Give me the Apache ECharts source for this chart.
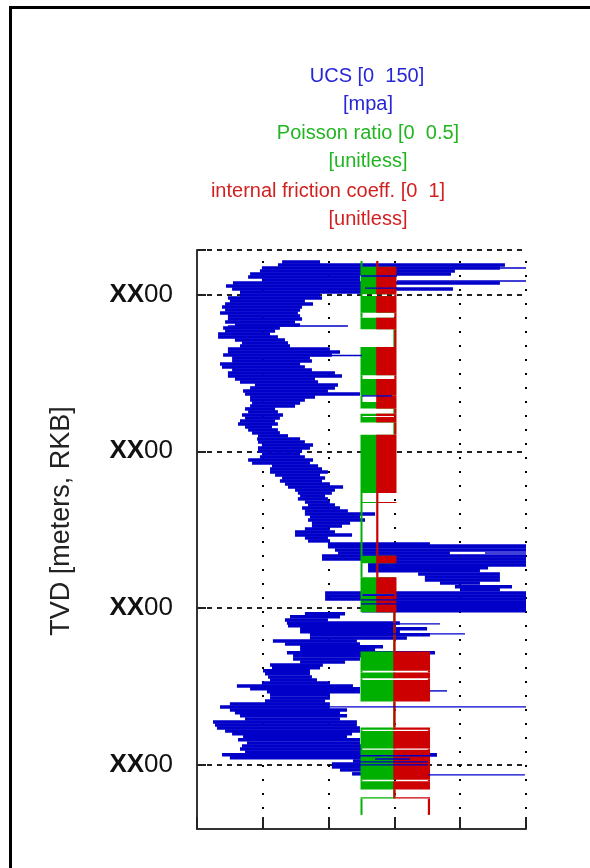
<!DOCTYPE html>
<html>
<head>
<meta charset="utf-8">
<script src="https://cdn.jsdelivr.net/npm/echarts@6/dist/echarts.min.js"></script>
<style>
  html, body { margin: 0; padding: 0; background: #ffffff; }
  #chart { width: 590px; height: 868px; }
</style>
</head>
<body>
<div id="chart"></div>
<script>
// ---- depth axis (TVD, m) ----
const depthTop = 71.6;
const depthBottom = 441.0;
const depthTicks = [100, 200, 300, 400];
const depthTickLabels = ['XX00', 'XX00', 'XX00', 'XX00'];

// ---- UCS axis (MPa) ----
const ucsMinAxis = 0, ucsMaxAxis = 150, ucsStep = 30;

// ---- UCS log: per depth row, the span the curve covers ----
const ucsDepth = [79.3, 81.2, 83.1, 85.0, 86.9, 88.8, 90.8, 92.7, 94.6, 96.5, 98.4, 100.3, 102.2, 104.1, 106.1, 108.0, 109.9, 111.8, 113.7, 115.6, 117.5, 119.5, 121.4, 123.3, 125.2, 127.1, 129.0, 130.9, 132.8, 134.8, 136.7, 138.6, 140.5, 142.4, 144.3, 146.2, 148.2, 150.1, 152.0, 153.9, 155.8, 157.7, 159.6, 161.5, 163.5, 165.4, 167.3, 169.2, 171.1, 173.0, 174.9, 176.9, 178.8, 180.7, 182.6, 184.5, 186.4, 188.3, 190.2, 192.2, 194.1, 196.0, 197.9, 199.8, 201.7, 203.6, 205.6, 207.5, 209.4, 211.3, 213.2, 215.1, 217.0, 219.0, 220.9, 222.8, 224.7, 226.6, 228.5, 230.4, 232.4, 234.3, 236.2, 238.1, 240.0, 241.9, 243.8, 245.8, 247.7, 249.6, 251.5, 253.4, 255.3, 257.2, 259.1, 261.0, 263.0, 264.9, 266.8, 268.7, 270.6, 272.5, 274.4, 276.3, 278.3, 280.2, 282.1, 284.0, 286.5, 288.4, 290.4, 292.3, 294.2, 296.1, 298.0, 299.9, 301.8, 303.7, 305.6, 307.6, 309.5, 311.4, 313.3, 315.2, 317.1, 319.1, 321.0, 322.9, 324.8, 326.7, 328.6, 330.5, 332.5, 334.4, 336.3, 338.2, 340.1, 342.0, 344.0, 345.9, 347.8, 349.7, 351.6, 353.5, 355.4, 357.4, 359.3, 361.2, 363.1, 365.0, 366.9, 368.8, 370.8, 372.7, 374.6, 376.5, 378.4, 380.3, 382.2, 384.1, 386.1, 388.0, 389.9, 391.8, 393.7, 395.6, 397.6, 399.5, 401.4, 403.3, 405.8];
const ucsMin = [38.8, 36.9, 29.6, 28.7, 24.2, 23.3, 29.6, 16.4, 13.2, 16.0, 19.6, 19.6, 14.1, 15.0, 12.8, 11.4, 12.8, 10.5, 14.1, 14.1, 12.8, 17.3, 11.9, 12.8, 9.6, 9.6, 17.3, 20.5, 19.6, 14.1, 14.1, 11.9, 16.0, 16.0, 10.5, 11.4, 16.0, 14.1, 14.1, 17.3, 19.6, 26.4, 24.2, 21.0, 21.9, 24.2, 24.2, 25.1, 24.2, 21.9, 23.3, 20.5, 21.9, 19.6, 18.7, 21.9, 23.3, 25.1, 27.8, 27.4, 27.8, 29.6, 27.8, 27.8, 29.6, 28.7, 23.3, 25.1, 34.2, 33.3, 33.3, 35.6, 38.8, 37.8, 40.1, 41.5, 44.7, 46.0, 47.0, 46.0, 49.2, 50.6, 47.9, 49.2, 49.2, 51.5, 50.6, 52.4, 52.4, 49.2, 44.7, 44.7, 49.2, 50.6, 59.7, 59.7, 62.9, 64.3, 57.0, 57.0, 78.0, 78.0, 78.0, 78.0, 100.8, 103.9, 103.9, 110.8, 117.6, 119.9, 58.4, 58.4, 58.4, 75.2, 75.2, 75.2, 75.2, 49.2, 42.4, 40.1, 41.0, 41.5, 47.0, 47.0, 51.5, 51.5, 34.6, 40.1, 47.0, 47.0, 41.0, 43.8, 43.8, 47.0, 33.3, 34.2, 30.1, 31.0, 32.4, 33.3, 29.6, 18.2, 24.2, 31.9, 33.3, 33.3, 31.0, 15.0, 10.5, 15.0, 17.3, 19.6, 21.9, 7.3, 8.2, 9.1, 12.8, 16.0, 21.0, 18.7, 22.8, 20.5, 19.6, 21.9, 11.4, 15.0, 71.1, 61.5, 61.5, 65.2, 70.7];
const ucsMax = [56.1, 140.4, 138.1, 117.6, 115.8, 74.3, 74.3, 138.1, 75.2, 116.7, 75.2, 56.1, 57.0, 49.2, 52.9, 47.9, 47.0, 46.0, 47.0, 47.9, 44.7, 47.0, 37.8, 35.6, 33.3, 36.9, 40.1, 41.5, 42.4, 60.6, 65.2, 61.5, 51.5, 52.4, 47.0, 49.2, 52.4, 62.9, 66.1, 53.8, 55.2, 64.3, 62.9, 59.7, 74.3, 53.8, 49.2, 47.0, 44.7, 35.6, 36.9, 39.2, 37.8, 35.6, 36.9, 34.2, 36.9, 37.8, 41.5, 47.0, 49.2, 52.9, 51.5, 47.9, 47.0, 49.2, 52.9, 51.5, 55.2, 57.0, 59.7, 56.1, 58.4, 57.0, 60.6, 66.6, 62.9, 61.5, 58.4, 59.7, 60.6, 62.9, 65.2, 68.8, 81.2, 74.3, 76.6, 69.8, 66.1, 60.6, 62.9, 70.7, 59.7, 60.6, 106.2, 150, 150, 115.3, 150, 150, 150, 150, 132.7, 129.0, 138.1, 138.1, 138.1, 129.0, 143.6, 138.1, 150, 150, 150, 150, 150, 150, 150, 67.5, 65.2, 59.7, 92.5, 90.3, 104.9, 92.5, 106.2, 95.7, 72.9, 74.3, 84.8, 81.2, 108.5, 83.4, 74.3, 67.5, 57.4, 56.1, 51.5, 51.5, 52.4, 54.7, 60.6, 71.1, 74.3, 74.3, 60.6, 60.6, 58.4, 60.6, 60.6, 68.4, 65.2, 68.4, 65.2, 72.9, 72.9, 74.3, 74.3, 70.7, 68.4, 74.3, 74.3, 75.2, 75.2, 75.2, 109.4, 83.4, 97.1, 105.3, 75.2, 75.2, 75.2];

// ---- UCS log: isolated excursions (single thin sweeps) ----
const spikeDepth = [83.1, 88.2, 91.4, 95.9, 120.1, 138.9, 164.7, 259.7, 264.9, 294.8, 297.4, 310.1, 316.5, 352.9, 363.1, 394.3, 396.3, 398.2, 400.1, 406.5];
const spikeMin = [91.2, 74.8, 91.2, 76.6, 14.1, 47.0, 75.2, 106.2, 131.3, 74.8, 74.8, 60.6, 83.4, 106.2, 60.6, 74.3, 81.2, 74.3, 61.5, 105.3];
const spikeMax = [150, 91.2, 150, 91.2, 68.8, 75.2, 88.9, 150, 150, 91.2, 91.2, 110.8, 122.2, 114.0, 150, 109.4, 97.1, 105.3, 105.3, 149.5];

// ---- Poisson ratio: depth intervals and the values it swings between ----
const poisTop =    [78.6, 82.3, 99.9, 101.0, 111.6, 114.8, 122.2, 133.5, 151.5, 153.9, 164.4, 168.6, 172.8, 176.0, 177.5, 178.1, 181.6, 189.4, 226.6, 232.4, 233.0, 266.6, 271.4, 280.4, 291.0, 292.3, 302.7, 327.8, 340.1, 341.1, 344.9, 345.9, 359.7, 376.2, 377.6, 378.4, 389.7, 390.5, 409.6, 410.5, 415.8, 420.7, 421.6];
const poisBottom = [82.3, 99.9, 101.0, 111.6, 114.8, 122.2, 133.5, 151.5, 153.9, 164.4, 168.6, 172.8, 176.0, 177.5, 178.1, 181.6, 189.4, 226.6, 232.4, 233.0, 266.6, 271.4, 280.4, 291.0, 292.3, 302.7, 327.8, 340.1, 341.1, 344.9, 345.9, 359.7, 376.2, 377.6, 378.4, 389.7, 390.5, 409.6, 410.5, 415.8, 420.7, 421.6, 432.0];
const poisA = [0.25, 0.25, 0.25, 0.25, 0.25, 0.25, 0.3, 0.25, 0.25, 0.25, 0.25, 0.25, 0.3, 0.25, 0.25, 0.25, 0.3, 0.25, 0.25, 0.25, 0.25, 0.25, 0.25, 0.25, 0.25, 0.25, 0.3, 0.25, 0.25, 0.25, 0.25, 0.25, 0.3, 0.25, 0.25, 0.25, 0.25, 0.25, 0.25, 0.25, 0.3, 0.25, 0.25];
const poisB = [0.25, 0.3, 0.25, 0.3, 0.25, 0.3, 0.3, 0.3, 0.25, 0.3, 0.25, 0.3, 0.3, 0.3, 0.25, 0.3, 0.3, 0.3, 0.25, 0.3, 0.25, 0.3, 0.25, 0.3, 0.25, 0.3, 0.3, 0.3, 0.25, 0.3, 0.25, 0.3, 0.3, 0.3, 0.25, 0.3, 0.25, 0.3, 0.25, 0.3, 0.3, 0.3, 0.25];

// ---- internal friction coefficient: depth intervals and swing values ----
const fricTop = poisTop;
const fricBottom = poisBottom;
const fricA = [0.548, 0.548, 0.603, 0.548, 0.603, 0.548, 0.603, 0.548, 0.603, 0.548, 0.548, 0.548, 0.603, 0.548, 0.603, 0.548, 0.603, 0.548, 0.548, 0.548, 0.548, 0.548, 0.548, 0.548, 0.603, 0.548, 0.6, 0.6, 0.705, 0.6, 0.705, 0.6, 0.6, 0.6, 0.705, 0.6, 0.705, 0.6, 0.705, 0.6, 0.6, 0.6, 0.705];
const fricB = [0.548, 0.603, 0.603, 0.603, 0.603, 0.603, 0.603, 0.603, 0.603, 0.603, 0.603, 0.603, 0.603, 0.603, 0.603, 0.603, 0.603, 0.603, 0.548, 0.603, 0.548, 0.603, 0.548, 0.603, 0.603, 0.603, 0.6, 0.705, 0.705, 0.705, 0.705, 0.705, 0.6, 0.705, 0.705, 0.705, 0.705, 0.705, 0.705, 0.705, 0.6, 0.705, 0.705];

// ---- header text ----
const headerLines = [
  { text: 'UCS [0  150]', color: '#2626d6', x: 367, y: 76 },
  { text: '[mpa]', color: '#2626d6', x: 368, y: 104 },
  { text: 'Poisson ratio [0  0.5]', color: '#22b522', x: 368, y: 133 },
  { text: '[unitless]', color: '#22b522', x: 368, y: 161 },
  { text: 'internal friction coeff. [0  1]', color: '#d21f1f', x: 328, y: 191 },
  { text: '[unitless]', color: '#d21f1f', x: 368, y: 219 }
];
const depthTitle = 'TVD [meters, RKB]';

const BLUE = '#0000c8', GREEN = '#00b000', RED = '#cc0000';
const FONT = '"Liberation Sans", Arial, sans-serif';

function rows(dep, lo, hi) { return dep.map((d, i) => [d, lo[i], hi[i]]); }
function segs(top, bot, a, b) { return top.map((t, i) => [t, bot[i], a[i], b[i]]); }

// one horizontal sweep of a log curve at a given depth
function rowRenderer(color, h) {
  return function (params, api) {
    const d = api.value(0), lo = api.value(1), hi = api.value(2);
    const p1 = api.coord([lo, d]);
    const p2 = api.coord([hi, d]);
    return {
      type: 'rect',
      shape: { x: p1[0], y: p1[1] - h / 2, width: Math.max(p2[0] - p1[0], 1), height: h },
      style: { fill: color }
    };
  };
}

// a depth interval: a trace line when both values match, a filled swing band otherwise
function segRenderer(color, lw) {
  return function (params, api) {
    const t = api.value(0), b = api.value(1), va = api.value(2), vb = api.value(3);
    const pA = api.coord([Math.min(va, vb), t]);
    const pB = api.coord([Math.max(va, vb), b]);
    return {
      type: 'rect',
      shape: { x: pA[0] - lw / 2, y: pA[1], width: pB[0] - pA[0] + lw, height: pB[1] - pA[1] },
      style: { fill: color }
    };
  };
}

const graphics = [
  { type: 'rect', shape: { x: 9, y: 6, width: 581, height: 3 }, style: { fill: '#000' }, silent: true },
  { type: 'rect', shape: { x: 9, y: 6, width: 3, height: 862 }, style: { fill: '#000' }, silent: true },
  {
    type: 'text', x: 62, y: 521, rotation: Math.PI / 2,
    style: { text: depthTitle, fill: '#222', font: '27px ' + FONT, textAlign: 'center', textVerticalAlign: 'middle' }
  }
].concat(headerLines.map(l => ({
  type: 'text', x: l.x, y: l.y,
  style: { text: l.text, fill: l.color, font: '20px ' + FONT, textAlign: 'center', textVerticalAlign: 'middle' }
})));

const chart = echarts.init(document.getElementById('chart'));
chart.setOption({
  animation: false,
  backgroundColor: '#ffffff',
  grid: { left: 197, top: 250, width: 329, height: 579 },
  xAxis: [
    {
      type: 'value', min: ucsMinAxis, max: ucsMaxAxis, interval: ucsStep, position: 'bottom',
      axisLine: { show: true, onZero: false, lineStyle: { color: '#333', width: 2 } },
      axisTick: { show: true, inside: true, length: 12, lineStyle: { color: '#222', width: 2 } },
      axisLabel: { show: false },
      splitLine: { show: true, lineStyle: { color: '#000', width: 2, type: [2, 12], dashOffset: 3 } }
    },
    { type: 'value', min: 0, max: 0.5, show: false },
    { type: 'value', min: 0, max: 1, show: false }
  ],
  yAxis: {
    type: 'value', inverse: true, min: depthTop, max: depthBottom,
    axisLine: { show: true, onZero: false, lineStyle: { color: '#333', width: 2 } },
    axisTick: { show: true, inside: true, length: 9, customValues: [depthTop].concat(depthTicks), lineStyle: { color: '#222', width: 2 } },
    axisLabel: {
      show: true, customValues: depthTicks, margin: 24,
      formatter: function (v) {
        const s = depthTickLabels[depthTicks.indexOf(v)] || '';
        return '{b|' + s.slice(0, 2) + '}{n|' + s.slice(2) + '}';
      },
      rich: {
        b: { fontFamily: FONT, fontWeight: 'bold', fontSize: 26, color: '#111' },
        n: { fontFamily: FONT, fontSize: 26, color: '#111' }
      }
    },
    splitLine: { show: true, lineStyle: { color: '#222', width: 2, type: [5, 5] } }
  },
  graphic: graphics,
  series: [
    {
      name: 'UCS', type: 'custom', xAxisIndex: 0, yAxisIndex: 0,
      renderItem: rowRenderer(BLUE, 3.5),
      encode: { x: [1, 2], y: 0 },
      data: rows(ucsDepth, ucsMin, ucsMax), z: 2
    },
    {
      name: 'Poisson ratio', type: 'custom', xAxisIndex: 1, yAxisIndex: 0,
      renderItem: segRenderer(GREEN, 2),
      encode: { x: [2, 3], y: [0, 1] },
      data: segs(poisTop, poisBottom, poisA, poisB), z: 3
    },
    {
      name: 'internal friction coeff.', type: 'custom', xAxisIndex: 2, yAxisIndex: 0,
      renderItem: segRenderer(RED, 2.2),
      encode: { x: [2, 3], y: [0, 1] },
      data: segs(fricTop, fricBottom, fricA, fricB), z: 4
    },
    {
      name: 'UCS sweeps', type: 'custom', xAxisIndex: 0, yAxisIndex: 0,
      renderItem: rowRenderer(BLUE, 1.4),
      encode: { x: [1, 2], y: 0 },
      data: rows(spikeDepth, spikeMin, spikeMax), z: 5
    }
  ]
});
</script>
</body>
</html>
